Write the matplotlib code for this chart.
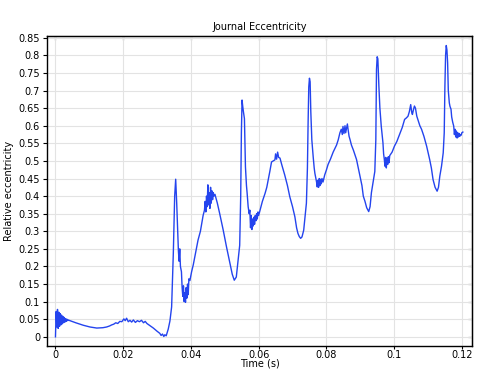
import matplotlib
matplotlib.use('Agg')
import matplotlib.pyplot as plt
import numpy as np

# time (s) and relative eccentricity
time = [
    0.0000, 0.0002, 0.0004, 0.0006, 0.0008, 0.0010, 0.0012, 0.0014, 0.0016, 0.0018,
    0.0020, 0.0022, 0.0024, 0.0026, 0.0028, 0.0030, 0.0032, 0.0034, 0.0036, 0.0038,
    0.0040, 0.0060, 0.0082, 0.0102, 0.0122, 0.0140, 0.0151, 0.0160, 0.0166, 0.0172,
    0.0178, 0.0184, 0.0190, 0.0196, 0.0202, 0.0206, 0.0210, 0.0215, 0.0220, 0.0225,
    0.0230, 0.0236, 0.0242, 0.0248, 0.0254, 0.0260, 0.0265, 0.0270, 0.0280, 0.0289,
    0.0300, 0.0308, 0.0312, 0.0316, 0.0320, 0.0323, 0.0327, 0.0333, 0.0338, 0.0343,
    0.0348, 0.0352, 0.0355, 0.0358, 0.0361, 0.0363, 0.0365, 0.0367, 0.0369, 0.0372,
    0.0374, 0.0376, 0.0378, 0.0380, 0.0382, 0.0384, 0.0386, 0.0388, 0.0390, 0.0392,
    0.0394, 0.0397, 0.0402, 0.0407, 0.0414, 0.0421, 0.0428, 0.0436, 0.0440, 0.0442,
    0.0444, 0.0446, 0.0448, 0.0450, 0.0452, 0.0454, 0.0456, 0.0458, 0.0460, 0.0462,
    0.0464, 0.0466, 0.0468, 0.0471, 0.0478, 0.0485, 0.0495, 0.0505, 0.0515, 0.0522,
    0.0528, 0.0534, 0.0540, 0.0544, 0.0547, 0.0549, 0.0551, 0.0553, 0.0555, 0.0558,
    0.0561, 0.0564, 0.0566, 0.0569, 0.0572, 0.0574, 0.0576, 0.0578, 0.0580, 0.0582,
    0.0584, 0.0586, 0.0588, 0.0590, 0.0592, 0.0594, 0.0596, 0.0598, 0.0600, 0.0604,
    0.0611, 0.0619, 0.0624, 0.0628, 0.0633, 0.0638, 0.0643, 0.0648, 0.0650, 0.0653,
    0.0656, 0.0659, 0.0663, 0.0668, 0.0677, 0.0685, 0.0692, 0.0700, 0.0707, 0.0712,
    0.0716, 0.0720, 0.0724, 0.0728, 0.0733, 0.0737, 0.0741, 0.0744, 0.0746, 0.0748,
    0.0750, 0.0752, 0.0754, 0.0757, 0.0761, 0.0764, 0.0766, 0.0769, 0.0771, 0.0773,
    0.0775, 0.0777, 0.0779, 0.0781, 0.0783, 0.0785, 0.0787, 0.0790, 0.0795, 0.0800,
    0.0805, 0.0812, 0.0820, 0.0825, 0.0830, 0.0835, 0.0840, 0.0844, 0.0847, 0.0849,
    0.0852, 0.0855, 0.0857, 0.0860, 0.0862, 0.0864, 0.0867, 0.0870, 0.0874, 0.0880,
    0.0889, 0.0899, 0.0905, 0.0909, 0.0914, 0.0919, 0.0925, 0.0929, 0.0933, 0.0938,
    0.0943, 0.0946, 0.0948, 0.0950, 0.0952, 0.0955, 0.0958, 0.0962, 0.0965, 0.0967,
    0.0969, 0.0971, 0.0973, 0.0975, 0.0977, 0.0979, 0.0981, 0.0983, 0.0985, 0.0987,
    0.0994, 0.1001, 0.1008, 0.1016, 0.1024, 0.1031, 0.1036, 0.1041, 0.1045, 0.1049,
    0.1052, 0.1054, 0.1057, 0.1060, 0.1063, 0.1067, 0.1071, 0.1076, 0.1081, 0.1088,
    0.1096, 0.1100, 0.1105, 0.1110, 0.1115, 0.1121, 0.1127, 0.1131, 0.1135, 0.1140,
    0.1145, 0.1148, 0.1150, 0.1152, 0.1154, 0.1156, 0.1158, 0.1160, 0.1163, 0.1165,
    0.1168, 0.1170, 0.1173, 0.1176, 0.1178, 0.1180, 0.1182, 0.1184, 0.1186, 0.1188,
    0.1190, 0.1192, 0.1194, 0.1196, 0.1198, 0.1200, 0.1203,
]
eccentricity = [
    0.000, 0.072, 0.028, 0.078, 0.024, 0.070, 0.030, 0.066, 0.034, 0.062,
    0.037, 0.058, 0.040, 0.055, 0.042, 0.052, 0.044, 0.050, 0.046, 0.048,
    0.047, 0.040, 0.033, 0.028, 0.025, 0.026, 0.028, 0.031, 0.034, 0.036,
    0.040, 0.038, 0.044, 0.043, 0.051, 0.046, 0.053, 0.043, 0.047, 0.042,
    0.048, 0.041, 0.046, 0.043, 0.047, 0.040, 0.044, 0.038, 0.031, 0.025,
    0.016, 0.010, 0.004, 0.008, 0.001, 0.006, 0.003, 0.022, 0.045, 0.085,
    0.237, 0.400, 0.448, 0.380, 0.300, 0.245, 0.215, 0.250, 0.200, 0.185,
    0.140, 0.115, 0.145, 0.100, 0.125, 0.098, 0.140, 0.110, 0.150, 0.120,
    0.165, 0.160, 0.185, 0.205, 0.240, 0.275, 0.300, 0.345, 0.360, 0.385,
    0.355, 0.400, 0.370, 0.432, 0.375, 0.410, 0.365, 0.425, 0.380, 0.415,
    0.390, 0.410, 0.400, 0.405, 0.380, 0.350, 0.305, 0.256, 0.210, 0.178,
    0.161, 0.170, 0.225, 0.260, 0.400, 0.580, 0.673, 0.655, 0.640, 0.620,
    0.483, 0.430, 0.408, 0.370, 0.350, 0.360, 0.310, 0.345, 0.305, 0.335,
    0.315, 0.340, 0.320, 0.345, 0.330, 0.350, 0.335, 0.355, 0.345, 0.360,
    0.385, 0.408, 0.425, 0.445, 0.470, 0.497, 0.500, 0.503, 0.520, 0.505,
    0.525, 0.510, 0.508, 0.490, 0.460, 0.430, 0.398, 0.370, 0.341, 0.310,
    0.294, 0.285, 0.280, 0.284, 0.303, 0.340, 0.380, 0.480, 0.607, 0.710,
    0.735, 0.725, 0.640, 0.560, 0.512, 0.480, 0.465, 0.450, 0.440, 0.426,
    0.445, 0.425, 0.450, 0.430, 0.448, 0.435, 0.450, 0.440, 0.460, 0.474,
    0.490, 0.505, 0.525, 0.535, 0.545, 0.560, 0.580, 0.590, 0.575, 0.598,
    0.578, 0.600, 0.580, 0.595, 0.605, 0.590, 0.570, 0.560, 0.545, 0.530,
    0.504, 0.457, 0.430, 0.400, 0.385, 0.367, 0.356, 0.370, 0.410, 0.440,
    0.470, 0.560, 0.760, 0.796, 0.790, 0.713, 0.650, 0.599, 0.570, 0.552,
    0.520, 0.505, 0.485, 0.510, 0.480, 0.508, 0.490, 0.512, 0.495, 0.515,
    0.525, 0.542, 0.555, 0.575, 0.595, 0.618, 0.622, 0.627, 0.640, 0.660,
    0.638, 0.632, 0.645, 0.656, 0.650, 0.627, 0.615, 0.600, 0.590, 0.570,
    0.542, 0.525, 0.504, 0.480, 0.447, 0.425, 0.414, 0.425, 0.457, 0.485,
    0.523, 0.580, 0.713, 0.800, 0.828, 0.815, 0.779, 0.700, 0.665, 0.655,
    0.647, 0.625, 0.610, 0.599, 0.575, 0.590, 0.568, 0.585, 0.565, 0.580,
    0.568, 0.578, 0.570, 0.575, 0.573, 0.580, 0.582,
]

x_ticks = [0, 0.02, 0.04, 0.06, 0.08, 0.1, 0.12]
x_tick_labels = ['0', '0.02', '0.04', '0.06', '0.08', '0.1', '0.12']
y_ticks = [0, 0.05, 0.1, 0.15, 0.2, 0.25, 0.3, 0.35, 0.4, 0.45,
           0.5, 0.55, 0.6, 0.65, 0.7, 0.75, 0.8, 0.85]
y_tick_labels = ['0', '0.05', '0.1', '0.15', '0.2', '0.25', '0.3', '0.35', '0.4',
                 '0.45', '0.5', '0.55', '0.6', '0.65', '0.7', '0.75', '0.8', '0.85']

plt.rcParams['font.family'] = ['DejaVu Sans']

fig = plt.figure(figsize=(4.81, 3.70), dpi=100)
ax = fig.add_axes([47 / 481, 1 - 346 / 370, 425 / 481, 310 / 370])

ax.plot(time, eccentricity, color='#2444ee', linewidth=1.0)

ax.set_xlim(-0.0025, 0.123)
ax.set_ylim(-0.026, 0.855)
ax.set_xticks(x_ticks)
ax.set_xticklabels(x_tick_labels)
ax.set_yticks(y_ticks)
ax.set_yticklabels(y_tick_labels)
ax.grid(True, color='#e3e3e3', linewidth=0.8)
ax.set_axisbelow(True)
ax.tick_params(direction='out', labelsize=7, width=0.8, colors='black')
ax.tick_params(axis='x', length=2, pad=1)
ax.tick_params(axis='y', length=3, pad=2)

# mirrored ticks pointing inwards on top and right
top = ax.secondary_xaxis('top')
top.set_xticks(x_ticks)
top.tick_params(direction='in', length=3, width=0.8, labeltop=False)
right = ax.secondary_yaxis('right')
right.set_yticks(y_ticks)
right.tick_params(direction='in', length=3, width=0.8, labelright=False)

for s in ax.spines.values():
    s.set_linewidth(1.0)

ax.set_title('Journal Eccentricity', fontsize=7, pad=4)
ax.set_xlabel('Time (s)', fontsize=7, labelpad=-1)
ax.set_ylabel('Relative eccentricity', fontsize=7, labelpad=3)

fig.savefig('out.png', dpi=100)
